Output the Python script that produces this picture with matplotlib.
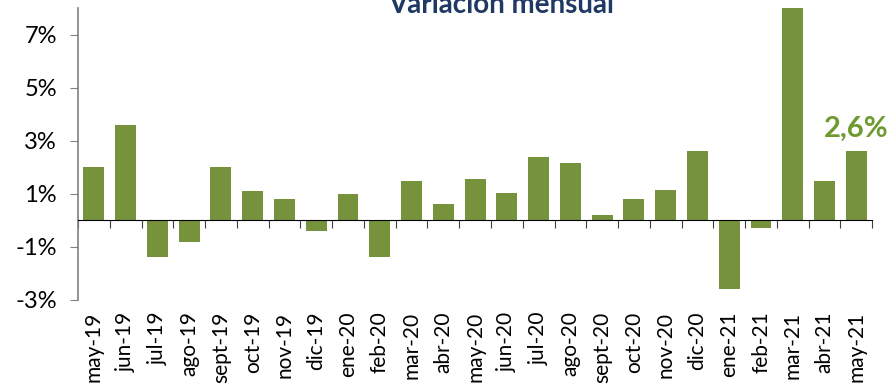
import numpy as np
import matplotlib.pyplot as plt
from matplotlib.ticker import FixedLocator

plt.rcParams['font.family'] = ['Lato', 'DejaVu Sans']

# Variación mensual (%)
meses = ["may-19", "jun-19", "jul-19", "ago-19", "sept-19", "oct-19", "nov-19",
         "dic-19", "ene-20", "feb-20", "mar-20", "abr-20", "may-20", "jun-20",
         "jul-20", "ago-20", "sept-20", "oct-20", "nov-20", "dic-20", "ene-21",
         "feb-21", "mar-21", "abr-21", "may-21"]
variacion = [2.0, 3.6, -1.4, -0.8, 2.0, 1.1, 0.8, -0.4, 1.0, -1.4, 1.5, 0.6,
             1.55, 1.05, 2.4, 2.15, 0.2, 0.8, 1.15, 2.6, -2.6, -0.3, 8.6, 1.5, 2.6]
yticks = [-3, -1, 1, 3, 5, 7]

verde = "#76923C"
azul = "#1F3864"

fig = plt.figure(figsize=(8.9, 3.89), dpi=100)
ax = fig.add_axes([0.0876, 0.229, 0.8924, 0.75])

x = np.arange(len(meses))
ax.bar(x, variacion, width=0.66, color=verde, zorder=2)

ax.set_xlim(-0.5, len(meses) - 0.5)
ax.set_ylim(-3, 8)

# eje y
ax.set_yticks(yticks)
ax.set_yticklabels([f"{v}%" for v in yticks], fontsize=17)
ax.tick_params(axis="y", length=6, color="#808080", pad=9)
ax.spines["left"].set_color("#808080")
ax.spines["left"].set_linewidth(1.2)

# eje x en cero, marcas entre categorías
ax.spines["bottom"].set_position(("data", 0))
ax.spines["bottom"].set_color("black")
ax.spines["bottom"].set_zorder(3)
ax.xaxis.set_major_locator(FixedLocator(np.arange(-0.5, len(meses), 1.0)))
ax.set_xticklabels([])
ax.tick_params(axis="x", length=6, color="#404040", direction="out")
ax.spines["top"].set_visible(False)
ax.spines["right"].set_visible(False)

# etiquetas de meses debajo del gráfico
for i, m in enumerate(meses):
    ax.text(i, -0.04, m, transform=ax.get_xaxis_transform(), rotation=90,
            ha="center", va="top", fontsize=15, color="black")

# último dato
ax.annotate(f"{variacion[-1]:.1f}%".replace(".", ","), (x[-1], variacion[-1]),
            xytext=(0, 7), textcoords="offset points", ha="center", va="bottom",
            fontsize=21, fontweight="bold", color="#6E9A30")

fig.text(0.563, 0.966, "Variación mensual", ha="center", va="baseline",
         fontsize=20, fontweight="bold", color=azul)

fig.savefig("out.png", dpi=100)
